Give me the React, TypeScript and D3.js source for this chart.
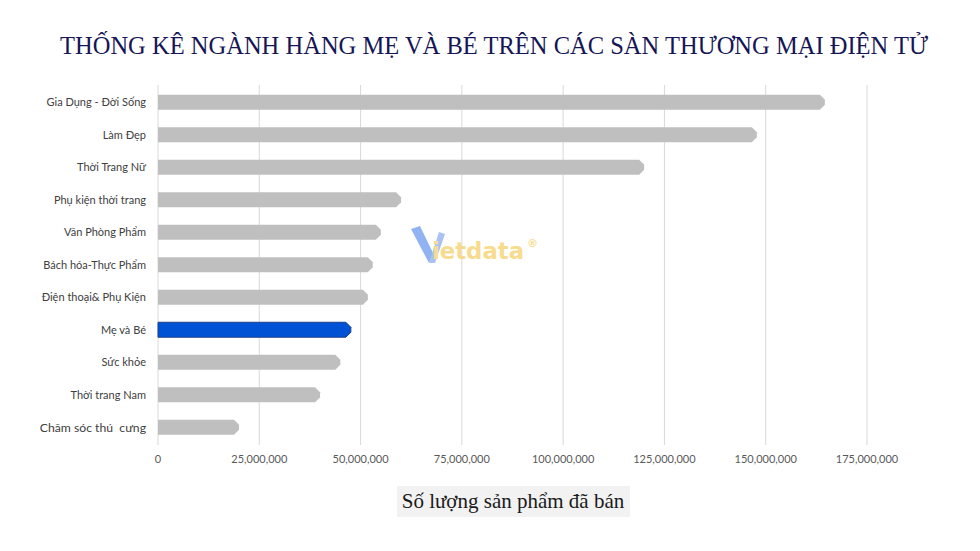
import React from "react";
import * as d3 from "d3";

const categories = [
  "Gia Dụng - Đời Sống",
  "Làm Đẹp",
  "Thời Trang Nữ",
  "Phụ kiện thời trang",
  "Văn Phòng Phẩm",
  "Bách hóa-Thực Phẩm",
  "Điện thoại& Phụ Kiện",
  "Mẹ và Bé",
  "Sức khỏe",
  "Thời trang Nam",
  "Chăm sóc thú  cưng",
];
const values = [164600000, 147800000, 120000000, 60000000, 55000000, 53000000, 51800000, 47600000, 45000000, 40000000, 20000000];
const highlight = "Mẹ và Bé";
const ticks = [0, 25000000, 50000000, 75000000, 100000000, 125000000, 150000000, 175000000];
const title = "THỐNG KÊ NGÀNH HÀNG MẸ VÀ BÉ TRÊN CÁC SÀN THƯƠNG MẠI ĐIỆN TỬ";
const axisTitle = "Số lượng sản phẩm đã bán";

export default function App() {
  const W = 980, H = 551;
  const x = d3.scaleLinear().domain([0, 175000000]).range([158, 867]);
  const y = d3.scaleBand<string>().domain(categories).range([86, 443.5]).paddingInner(0.54).paddingOuter(0.27);
  const fmt = d3.format(",");
  const bh = y.bandwidth();
  const barPath = (v: number, cat: string) => {
    const x0 = x(0), x1 = x(v), y0 = y(cat)!, y1 = y0 + bh;
    const c = Math.min(5, bh / 2);
    return `M${x0},${y0}L${x1 - c},${y0}L${x1},${y0 + c}L${x1},${y1 - c}L${x1 - c},${y1}L${x0},${y1}Z`;
  };
  return (
    <svg width={W} height={H} style={{ position: "absolute", left: 0, top: 0, background: "#fff" }}>
      <rect width={W} height={H} fill="#fff" />
      <text x={494} y={54} textAnchor="middle" fontFamily="'Liberation Serif','Times New Roman',serif" fontSize={25} fill="#161656" textLength={868} lengthAdjust="spacingAndGlyphs">{title}</text>
      {ticks.map((t) => (
        <line key={t} x1={x(t)} x2={x(t)} y1={85} y2={445} stroke="#d9d9d9" strokeWidth={1} />
      ))}
      {ticks.map((t) => (
        <text key={"l" + t} x={x(t)} y={463} textAnchor="middle" fontFamily="Lato, 'Open Sans', sans-serif" fontSize={11} fill="#595959">{fmt(t)}</text>
      ))}
      {categories.map((c, i) => (
        <path key={c} d={barPath(values[i], c)} fill={c === highlight ? "#0052d4" : "#bfbfbf"} stroke={c === highlight ? "#1c3f8f" : "none"} strokeWidth={1} />
      ))}
      {categories.map((c, i) => (
        <text key={"c" + c} x={146} y={y(c)! + bh / 2} dy="0.35em" textAnchor="end" fontFamily="Lato, 'Open Sans', sans-serif" fontSize={i === categories.length - 1 ? 12.2 : 11} fill="#404040" style={{ whiteSpace: "pre" }}>{c}</text>
      ))}
      <g opacity={0.85}>
        <path d="M411,229 L420,226 L433,253 L429,263 Z" fill="#7ea6f0" />
        <path d="M429,263 L439,232 L445,234 L435,263 Z" fill="#9bb8f2" />
        <text x={432} y={259} fontFamily="'DejaVu Sans', sans-serif" fontWeight="bold" fontSize={23} fill="#f6d77c" textLength={92} lengthAdjust="spacingAndGlyphs">ietdata</text>
        <text x={527} y={247} fontFamily="'DejaVu Sans', sans-serif" fontWeight="bold" fontSize={11} fill="#f6d77c">®</text>
      </g>
      <rect x={397} y={486} width={233} height={31} fill="#f2f2f2" />
      <text x={513} y={508} textAnchor="middle" fontFamily="'Liberation Serif','Times New Roman',serif" fontSize={21} fill="#1a1a1a">{axisTitle}</text>
    </svg>
  );
}
